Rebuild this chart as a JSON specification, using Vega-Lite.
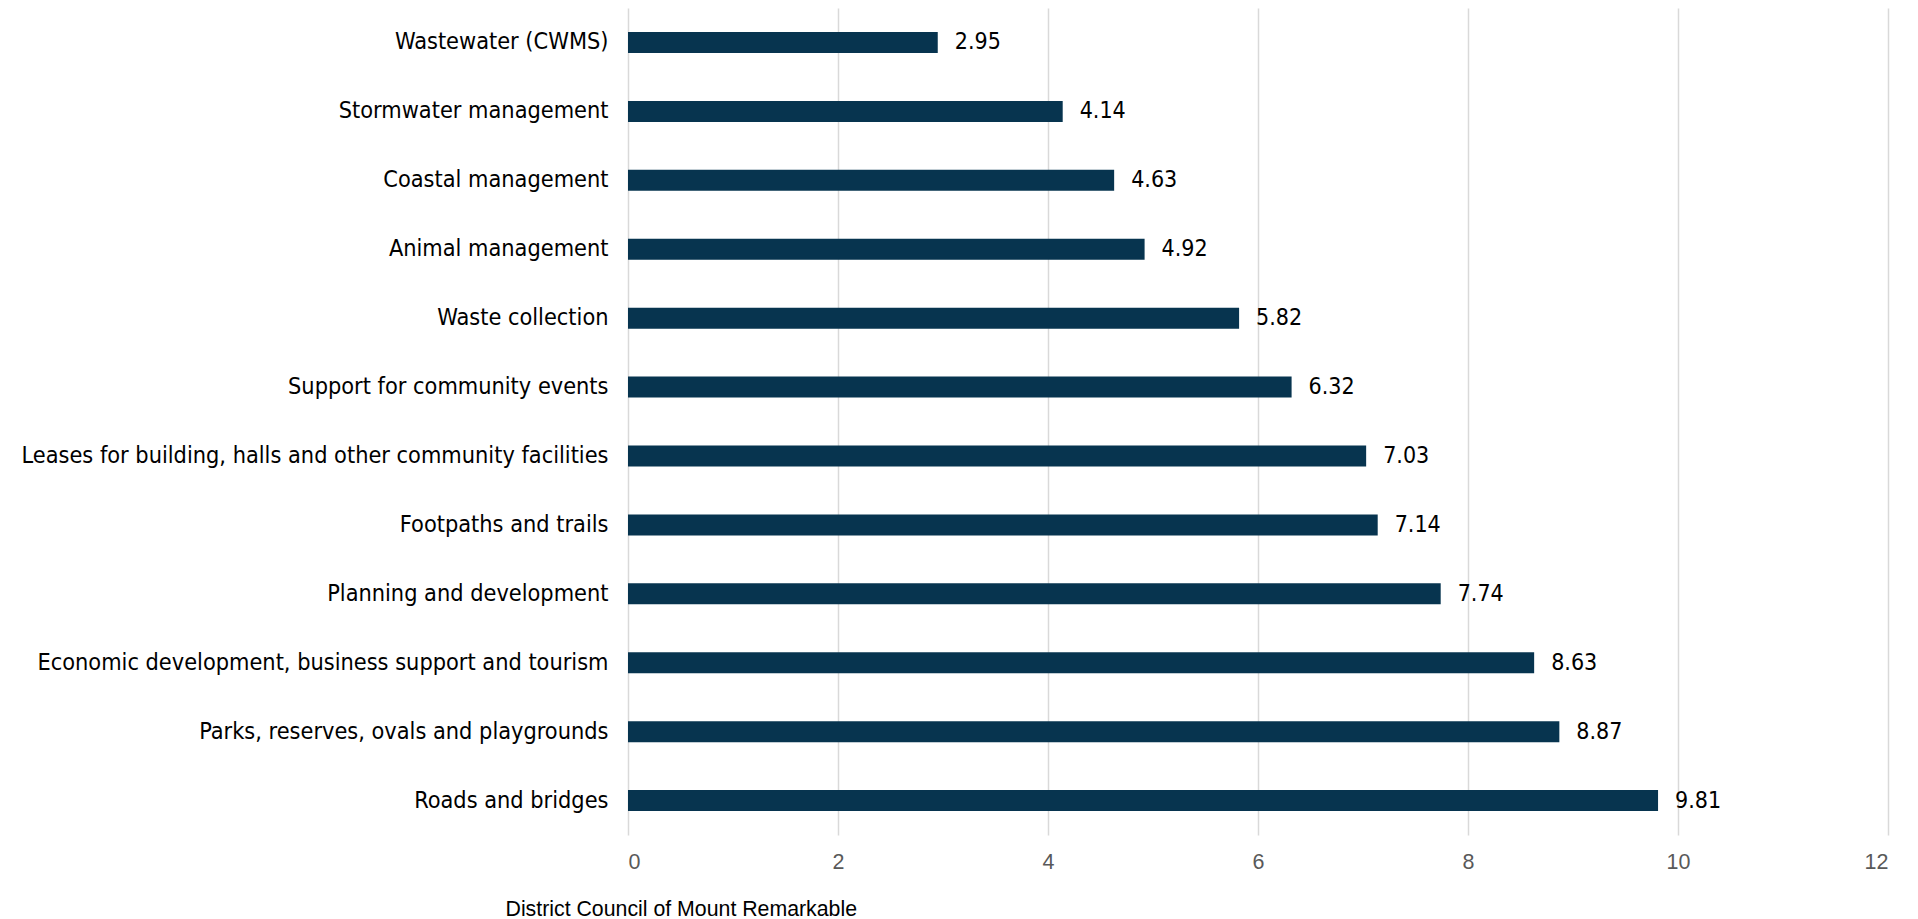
{
  "$schema": "https://vega.github.io/schema/vega-lite/v6.json",
  "autosize": "none",
  "width": 1260,
  "height": 827,
  "padding": {"left": 628, "top": 8, "right": 30, "bottom": 84},
  "background": "white",
  "config": {"view": {"stroke": null}},
  "data": {
    "values": [
      {"service": "Wastewater (CWMS)", "value": 2.95},
      {"service": "Stormwater management", "value": 4.14},
      {"service": "Coastal management", "value": 4.63},
      {"service": "Animal management ", "value": 4.92},
      {"service": "Waste collection", "value": 5.82},
      {"service": "Support for community events", "value": 6.32},
      {"service": "Leases for building, halls and other community facilities", "value": 7.03},
      {"service": "Footpaths and trails", "value": 7.14},
      {"service": "Planning and development", "value": 7.74},
      {"service": "Economic development, business support and tourism", "value": 8.63},
      {"service": "Parks, reserves, ovals and playgrounds", "value": 8.87},
      {"service": "Roads and bridges", "value": 9.81}
    ]
  },
  "encoding": {
    "y": {
      "field": "service",
      "type": "nominal",
      "sort": null,
      "scale": {"paddingInner": 0, "paddingOuter": 0},
      "axis": {
        "title": null,
        "domain": false,
        "ticks": false,
        "grid": false,
        "labelPadding": 20,
        "labelFont": "DejaVu Sans Condensed",
        "labelFontSize": 23.3,
        "labelColor": "#000000",
        "labelLimit": 700
      }
    },
    "x": {
      "field": "value",
      "type": "quantitative",
      "scale": {"domain": [0, 12], "nice": false},
      "axis": {
        "values": [0, 2, 4, 6, 8, 10, 12],
        "domain": false,
        "ticks": false,
        "grid": true,
        "gridColor": "#D9D9D9",
        "gridWidth": 1.5,
        "labelFont": "Liberation Sans",
        "labelFontSize": 21.5,
        "labelColor": "#595959",
        "labelPadding": 16,
        "title": "District Council of Mount Remarkable",
        "titleFont": "Liberation Sans",
        "titleFontSize": 21.3,
        "titleFontWeight": "normal",
        "titleColor": "#000000",
        "titleAnchor": "start",
        "titleAlign": "left",
        "titleBaseline": "alphabetic",
        "titleX": -123,
        "titleY": 80
      }
    }
  },
  "layer": [
    {
      "mark": {"type": "bar", "color": "#07344F", "size": 21}
    },
    {
      "mark": {
        "type": "text",
        "align": "left",
        "baseline": "middle",
        "dx": 17,
        "font": "DejaVu Sans Condensed",
        "fontSize": 23,
        "color": "#000000"
      },
      "encoding": {
        "text": {"field": "value", "type": "quantitative", "format": ".2f"}
      }
    }
  ]
}
